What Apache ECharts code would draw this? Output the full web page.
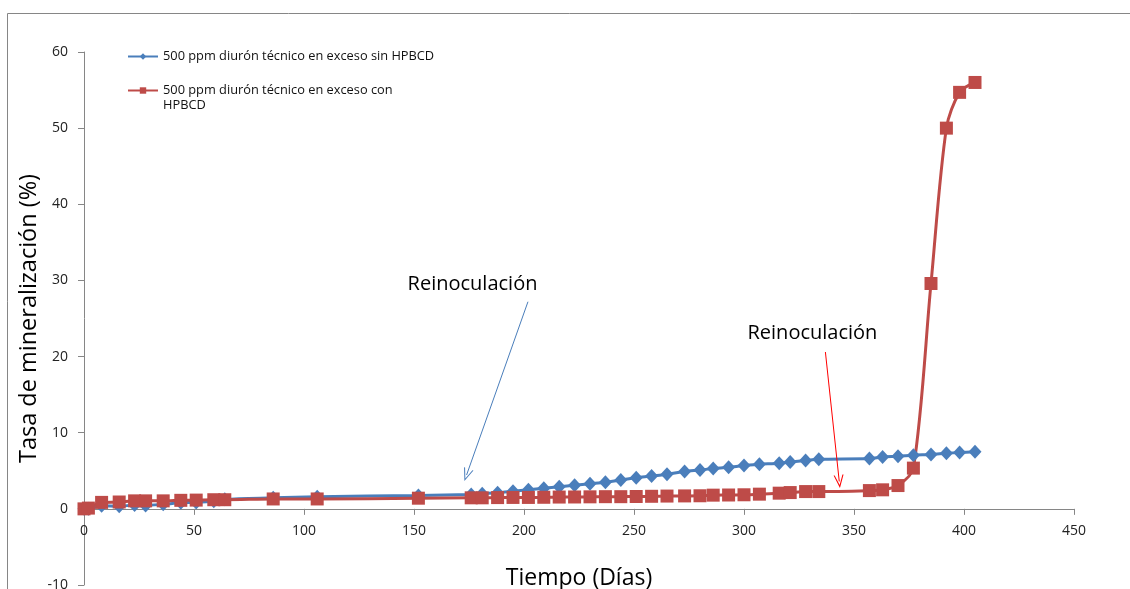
<!DOCTYPE html>
<html>
<head>
<meta charset="utf-8">
<script src="https://cdn.jsdelivr.net/npm/echarts@6/dist/echarts.min.js"></script>
<style>
  html, body { margin: 0; padding: 0; background: #ffffff; }
  #chart { width: 1130px; height: 589px; }
</style>
</head>
<body>
<div id="chart"></div>
<script>
// Sampling days (Tiempo, días)
const days = [0, 2, 8, 16, 23, 28, 36, 44, 51, 59, 64, 86, 106, 152,
  176, 181, 188, 195, 202, 209, 216, 223, 230, 237, 244,
  251, 258, 265, 273, 280, 286, 293, 300, 307,
  316, 321, 328, 334, 357, 363, 370, 377, 385, 392, 398, 405];

// Mineralization rate (%) without HPBCD
const sinHPBCD = [0, 0, 0.4, 0.35, 0.5, 0.45, 0.6, 0.8, 0.85, 1.0, 1.25, 1.45, 1.6, 1.75,
  1.9, 2.0, 2.1, 2.3, 2.5, 2.7, 2.9, 3.1, 3.3, 3.5, 3.8,
  4.1, 4.3, 4.55, 4.9, 5.1, 5.3, 5.45, 5.7, 5.85,
  6.0, 6.15, 6.35, 6.5, 6.6, 6.8, 6.9, 7.05, 7.15, 7.3, 7.4, 7.5];

// Mineralization rate (%) with HPBCD
const conHPBCD = [0, 0.1, 0.85, 0.9, 1.05, 1.05, 1.05, 1.12, 1.15, 1.2, 1.2, 1.3, 1.3, 1.4,
  1.45, 1.45, 1.48, 1.5, 1.5, 1.52, 1.55, 1.56, 1.58, 1.6, 1.6,
  1.62, 1.65, 1.68, 1.7, 1.72, 1.8, 1.82, 1.85, 1.93,
  2.06, 2.14, 2.27, 2.27, 2.4, 2.5, 3.06, 5.35, 29.6, 50, 54.7, 56];

const seriesNames = [
  '500 ppm diurón técnico en exceso sin HPBCD',
  '500 ppm diurón técnico en exceso con HPBCD'
];

// Axis ranges
const xRange = { min: 0, max: 450, interval: 50 };
const yRange = { min: -10, max: 60, interval: 10 };

// Reinoculation notes, in data units: label anchor, arrow start, arrow tip
const noteText = 'Reinoculación';
const noteLabels = [[176.6, 29.5], [331.1, 23.1]];
const noteArrows = [
  [[201.8, 27.2], [173.9, 4.45]],
  [[337.0, 20.6], [343.3, 3.6]]
];

const FONT = 'Open Sans';
const BLUE = '#4A7EBB';
const RED = '#BE4B48';
const AXIS_GREY = '#868686';
const openArrow = 'path://M5,0 L10,12 L8.9,12 L5,2.6 L1.1,12 L0,12 Z';

function pairs(ys) {
  return days.map((d, i) => [d, ys[i]]);
}

function arrowMark(idx, color) {
  return {
    silent: true,
    animation: false,
    symbol: ['none', openArrow],
    symbolSize: [10, 13],
    lineStyle: { color: color, width: 1, type: 'solid' },
    label: { show: false },
    emphasis: { disabled: true },
    data: [[{ coord: noteArrows[idx][0] }, { coord: noteArrows[idx][1] }]]
  };
}

function noteMark(idx) {
  return {
    silent: true,
    animation: false,
    symbol: 'rect',
    symbolSize: 1,
    itemStyle: { color: 'rgba(0,0,0,0)' },
    label: {
      show: true,
      position: 'inside',
      formatter: noteText,
      color: '#000',
      fontFamily: FONT,
      fontSize: 20
    },
    emphasis: { disabled: true },
    data: [{ coord: noteLabels[idx] }]
  };
}

// Legend entry text: the long name wraps after "con", first line level with its icon
function legendText(name) {
  if (name === seriesNames[1]) {
    const cut = name.lastIndexOf(' ');
    return '{pad| }\n{t|' + name.slice(0, cut) + '}\n{t|' + name.slice(cut + 1) + '}';
  }
  return '{t|' + name + '}';
}

const chart = echarts.init(document.getElementById('chart'), null, { renderer: 'canvas' });

chart.setOption({
  animation: false,
  backgroundColor: '#ffffff',
  graphic: [{
    type: 'rect',
    silent: true,
    z: -10,
    shape: { x: 7.5, y: 13.5, width: 1300, height: 800 },
    style: { fill: 'none', stroke: AXIS_GREY, lineWidth: 1 }
  }],
  grid: { left: 84, right: 56, top: 52, bottom: 4, containLabel: false, outerBoundsMode: 'none' },
  legend: {
    orient: 'vertical',
    left: 127,
    top: 50,
    padding: 0,
    itemWidth: 30,
    itemHeight: 8,
    itemGap: 6,
    selectedMode: false,
    textStyle: {
      fontFamily: FONT, fontSize: 12.8, color: '#111',
      rich: {
        t: { fontFamily: FONT, fontSize: 12.8, color: '#111', lineHeight: 15 },
        pad: { fontFamily: FONT, fontSize: 12.8, lineHeight: 15 }
      }
    },
    formatter: legendText,
    data: seriesNames
  },
  xAxis: {
    type: 'value',
    min: xRange.min,
    max: xRange.max,
    interval: xRange.interval,
    name: 'Tiempo (Días)',
    nameLocation: 'middle',
    nameGap: -18,
    nameMoveOverlap: false,
    nameTextStyle: { fontFamily: FONT, fontSize: 23, color: '#000' },
    axisLine: { show: true, onZero: true, lineStyle: { color: AXIS_GREY, width: 1 } },
    axisTick: { show: true, length: 6, lineStyle: { color: AXIS_GREY } },
    axisLabel: { margin: -61, fontFamily: FONT, fontSize: 14, color: '#222' },
    splitLine: { show: false }
  },
  yAxis: {
    type: 'value',
    min: yRange.min,
    max: yRange.max,
    interval: yRange.interval,
    name: 'Tasa de mineralización (%)',
    nameLocation: 'middle',
    nameGap: 43,
    nameMoveOverlap: false,
    nameTextStyle: { fontFamily: FONT, fontSize: 23.5, color: '#000' },
    axisLine: { show: true, onZero: false, lineStyle: { color: AXIS_GREY, width: 1 } },
    axisTick: { show: true, length: 6, lineStyle: { color: AXIS_GREY } },
    axisLabel: { margin: 16, fontFamily: FONT, fontSize: 14, color: '#222' },
    splitLine: { show: false }
  },
  series: [
    {
      name: seriesNames[0],
      type: 'line',
      data: pairs(sinHPBCD),
      smooth: 0.3,
      symbol: 'diamond',
      symbolSize: [13, 14],
      lineStyle: { color: BLUE, width: 3 },
      itemStyle: { color: BLUE },
      emphasis: { disabled: true },
      markLine: arrowMark(0, BLUE),
      markPoint: noteMark(0)
    },
    {
      name: seriesNames[1],
      type: 'line',
      data: pairs(conHPBCD),
      smooth: 0.3,
      symbol: 'rect',
      symbolSize: 13,
      lineStyle: { color: RED, width: 3 },
      itemStyle: { color: RED },
      emphasis: { disabled: true },
      markLine: arrowMark(1, '#FF0000'),
      markPoint: noteMark(1)
    }
  ]
});
</script>
</body>
</html>
